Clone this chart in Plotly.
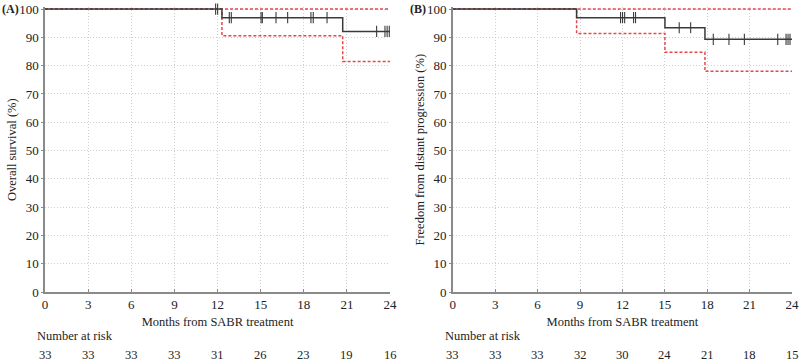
import plotly.graph_objects as go

# ---- data ----
months_ticks = [0, 3, 6, 9, 12, 15, 18, 21, 24]
risk_A = [33, 33, 33, 33, 31, 26, 23, 19, 16]
risk_B = [33, 33, 33, 32, 30, 24, 21, 18, 15]

# Panel A: overall survival (step function)
A_t = [0, 12.31, 20.71, 24]
A_s = [100, 96.97, 92.1, 92.1]
A_lo = [100, 90.6, 81.5, 81.5]
A_hi = [100, 100, 100, 100]
A_cens_t = [11.87, 12.01, 12.82, 12.96, 15.03, 15.12, 16.07, 16.88, 18.5, 18.66, 19.62,
            23.07, 23.65, 23.8, 23.95]
A_cens_s = [100, 100, 96.97, 96.97, 96.97, 96.97, 96.97, 96.97, 96.97, 96.97, 96.97,
            92.1, 92.1, 92.1, 92.1]

# Panel B: freedom from distant progression
B_t = [0, 8.76, 15.01, 17.84, 24]
B_s = [100, 96.97, 93.4, 89.3, 89.3]
B_lo = [100, 91.4, 84.7, 78.0, 78.0]
B_hi = [100, 100, 100, 100, 100]
B_cens_t = [11.87, 12.01, 12.16, 12.79, 12.93, 16.02, 16.83, 18.43, 19.54, 20.63,
            22.99, 23.58, 23.72, 23.86]
B_cens_s = [96.97, 96.97, 96.97, 96.97, 96.97, 93.4, 93.4, 89.3, 89.3, 89.3,
            89.3, 89.3, 89.3, 89.3]

FONT = "Liberation Serif"
RED = "#e8474a"
BLK = "#3a3a3a"
AXC = "#8a8a8a"
GRID = "#cfcfcf"
TXT = "#222"

fig = go.Figure()

def add_panel(xa, ya, t, s, lo, hi, ct, cs):
    for yv in (hi, lo):
        fig.add_trace(go.Scatter(x=t, y=yv, mode="lines", line_shape="hv",
                                 line=dict(color=RED, width=1.5, dash="3px,2px"),
                                 xaxis=xa, yaxis=ya, showlegend=False, hoverinfo="skip",
                                 cliponaxis=False))
    fig.add_trace(go.Scatter(x=t, y=s, mode="lines", line_shape="hv",
                             line=dict(color=BLK, width=1.5),
                             xaxis=xa, yaxis=ya, showlegend=False, cliponaxis=False))
    fig.add_trace(go.Scatter(x=ct, y=cs, mode="markers",
                             marker=dict(symbol="line-ns", size=8,
                                         line=dict(color=BLK, width=1.1)),
                             xaxis=xa, yaxis=ya, showlegend=False, cliponaxis=False))

add_panel("x", "y", A_t, A_s, A_lo, A_hi, A_cens_t, A_cens_s)
add_panel("x2", "y2", B_t, B_s, B_lo, B_hi, B_cens_t, B_cens_s)

xcommon = dict(range=[0, 24], tickvals=months_ticks, showgrid=True, gridcolor=GRID,
               griddash="1px,2px", gridwidth=1, showline=True, linecolor=AXC, linewidth=1.5,
               ticks="inside", ticklen=3, tickcolor=AXC, zeroline=False, automargin=False,
               tickfont=dict(family=FONT, size=13, color=TXT),
               title=dict(text="Months from SABR treatment", standoff=6,
                          font=dict(family=FONT, size=12.5, color=TXT)))
ycommon = dict(range=[0, 100.6], tickvals=list(range(0, 101, 10)), showgrid=True,
               gridcolor=GRID, griddash="1px,2px", gridwidth=1, showline=True, linecolor=AXC,
               linewidth=1.5, ticks="outside", ticklen=2, tickcolor=AXC, zeroline=False,
               automargin=False, tickfont=dict(family=FONT, size=13, color=TXT))

fig.update_layout(
    width=800, height=362, margin=dict(l=0, r=0, t=0, b=0),
    paper_bgcolor="white", plot_bgcolor="white",
    xaxis=dict(domain=[0.05625, 0.4875], anchor="y", **xcommon),
    xaxis2=dict(domain=[0.566, 0.99], anchor="y2", **xcommon),
    yaxis=dict(domain=[0.193, 0.9797], anchor="x",
               title=dict(text="Overall survival (%)", standoff=0,
                          font=dict(family=FONT, size=12.5, color=TXT)), **ycommon),
    yaxis2=dict(domain=[0.193, 0.9797], anchor="x2",
                title=dict(text="Freedom from distant progression (%)", standoff=0,
                           font=dict(family=FONT, size=12.5, color=TXT)), **ycommon),
)

ann = []
ann.append(dict(text="<b>(A)</b>", xref="paper", yref="paper", x=0.0, y=0.975,
                xanchor="left", yanchor="middle", showarrow=False,
                font=dict(family=FONT, size=12, color=TXT)))
ann.append(dict(text="<b>(B)</b>", xref="paper", yref="paper", x=0.51, y=0.975,
                xanchor="left", yanchor="middle", showarrow=False,
                font=dict(family=FONT, size=12, color=TXT)))
for px in (35 / 800, 443 / 800):
    ann.append(dict(text="Number at risk", xref="paper", yref="paper", x=px,
                    y=(362 - 336) / 362, xanchor="left", yanchor="middle", showarrow=False,
                    font=dict(family=FONT, size=12.5, color=TXT)))
for xr, risk in (("x", risk_A), ("x2", risk_B)):
    for tv, r in zip(months_ticks, risk):
        ann.append(dict(text=str(r), xref=xr, yref="paper", x=tv, y=(362 - 355) / 362,
                        xanchor="center", yanchor="middle", showarrow=False,
                        font=dict(family=FONT, size=12.5, color=TXT)))
fig.update_layout(annotations=ann)

fig.write_html("out.html", config={"displayModeBar": False},
               post_script="document.body.style.margin='0';document.body.style.overflow='hidden';")
